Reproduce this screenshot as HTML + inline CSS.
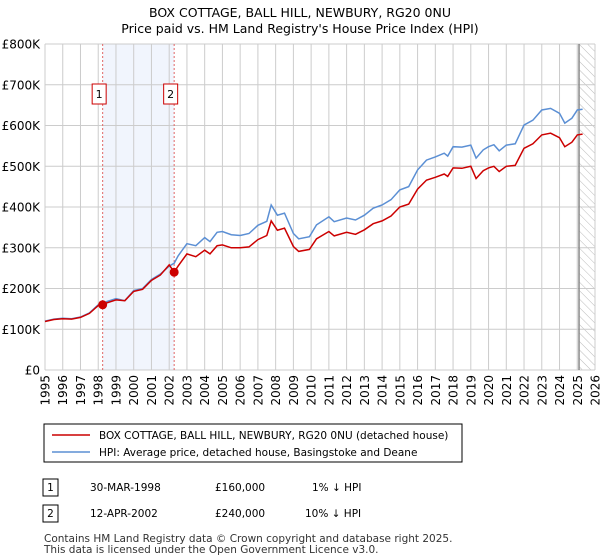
<!DOCTYPE html>
<html><head><meta charset="utf-8"><style>
body{margin:0;background:#fff;font-family:"Liberation Sans","DejaVu Sans",sans-serif;}
svg{display:block}
</style></head><body>
<svg id="c" width="600" height="560" xmlns="http://www.w3.org/2000/svg" font-family="DejaVu Sans, Liberation Sans, sans-serif">
<defs><pattern id="hatch" width="6" height="6" patternUnits="userSpaceOnUse" patternTransform="rotate(-45)"><line x1="0" y1="0" x2="0" y2="6" stroke="#bbb" stroke-width="1"/></pattern></defs>
<text x="300" y="17" text-anchor="middle" font-size="12.5" fill="#000">BOX COTTAGE, BALL HILL, NEWBURY, RG20 0NU</text>
<text x="300" y="33" text-anchor="middle" font-size="12.5" fill="#000">Price paid vs. HM Land Registry's House Price Index (HPI)</text>
<g id="grid"></g><g id="marks"></g><g id="axes"></g>
<rect x="44" y="424" width="418" height="38" fill="#fff" stroke="#000" stroke-width="1"/>
<line x1="52" y1="435" x2="90" y2="435" stroke="#cc0000" stroke-width="1.5"/>
<text x="99" y="439" font-size="10.5">BOX COTTAGE, BALL HILL, NEWBURY, RG20 0NU (detached house)</text>
<line x1="52" y1="452" x2="90" y2="452" stroke="#5b8fd4" stroke-width="1.5"/>
<text x="99" y="456" font-size="10.5">HPI: Average price, detached house, Basingstoke and Deane</text>
<g>
<rect x="43" y="479" width="15" height="17" fill="#fff" stroke="#000"/>
<text x="50.5" y="491" text-anchor="middle" font-size="10.5">1</text>
<text x="90" y="491" font-size="10.5">30-MAR-1998</text><text x="215" y="491" font-size="10.5">£160,000</text><text x="312" y="491" font-size="10.5">1% ↓ HPI</text></g>
<g>
<rect x="43" y="505" width="15" height="17" fill="#fff" stroke="#000"/>
<text x="50.5" y="517" text-anchor="middle" font-size="10.5">2</text>
<text x="90" y="517" font-size="10.5">12-APR-2002</text><text x="215" y="517" font-size="10.5">£240,000</text><text x="305" y="517" font-size="10.5">10% ↓ HPI</text></g>
<text x="44" y="542" font-size="10.5" fill="#333">Contains HM Land Registry data © Crown copyright and database right 2025.</text>
<text x="44" y="553" font-size="10.5" fill="#333">This data is licensed under the Open Government Licence v3.0.</text>
</svg>
<script>
const years=[1995,1995.5,1996,1996.5,1997,1997.5,1998,1998.25,1998.5,1999,1999.5,2000,2000.5,2001,2001.5,2002,2002.28,2002.5,2003,2003.5,2004,2004.3,2004.7,2005,2005.5,2006,2006.5,2007,2007.5,2007.75,2008.1,2008.5,2009,2009.3,2009.9,2010.3,2011,2011.3,2012,2012.5,2013,2013.5,2014,2014.5,2015,2015.5,2016,2016.5,2017,2017.5,2017.7,2018,2018.5,2019,2019.3,2019.7,2020,2020.3,2020.6,2021,2021.5,2022,2022.5,2023,2023.5,2024,2024.3,2024.7,2025,2025.3];
const hpi=[120,125,127,126,130,140,160,163,168,175,170,195,200,222,235,255,262,280,310,305,325,315,338,340,332,330,335,355,365,405,380,385,335,322,327,356,376,364,373,368,380,397,405,418,442,450,491,515,523,532,525,548,547,552,520,540,548,553,538,552,555,601,613,638,642,630,606,618,638,640];
const priceYears=years.slice(0,16).concat([2002.28]).concat(years.slice(17));
const price=[119,124,126,125,129,139,158,160,165,172,170,193,198,220,233,258,240,255,285,278,294,285,305,307,300,300,302,320,330,366,343,348,303,291,296,322,340,329,338,333,344,359,366,378,400,407,444,466,473,481,475,496,495,500,470,489,496,500,487,500,502,544,555,577,581,570,548,559,577,579];
const saleYears=[1998.25,2002.28];
const saleValues=[160,240];
const saleLabels=["1","2"];
const yTicks=[0,100,200,300,400,500,600,700,800];
const yTickLabels=["£0","£100K","£200K","£300K","£400K","£500K","£600K","£700K","£800K"];
const xTicks=[1995,1996,1997,1998,1999,2000,2001,2002,2003,2004,2005,2006,2007,2008,2009,2010,2011,2012,2013,2014,2015,2016,2017,2018,2019,2020,2021,2022,2023,2024,2025,2026];
const dataEnd=2025.1;

const X0=45,X1=595,Y0=370,Y1=44;
const xs=y=>X0+(y-1995)/(2026-1995)*(X1-X0);
const ys=v=>Y0-v/800*(Y0-Y1);
const NS="http://www.w3.org/2000/svg";
function mk(parent,tag,attrs){const e=document.createElementNS(NS,tag);for(const k in attrs)e.setAttribute(k,attrs[k]);document.getElementById(parent).appendChild(e);return e;}

let e=mk('grid','rect',{x:xs(saleYears[0]),y:Y1,width:xs(saleYears[1])-xs(saleYears[0]),height:Y0-Y1,fill:'#eef3fc',opacity:0.8});


e=mk('grid','rect',{x:xs(dataEnd),y:Y1,width:X1-xs(dataEnd),height:Y0-Y1,fill:'url(#hatch)'});


yTicks.forEach((t,i)=>{
  const l=mk('grid','line',{x1:X0,x2:X1,y1:ys(t),y2:ys(t),stroke:'#ccc','stroke-width':1});
  
  
  const tx=mk('axes','text',{x:40,y:ys(t)+4.5,'text-anchor':'end','font-size':12});
  
  
  tx.textContent=yTickLabels[i];
});
xTicks.forEach(t=>{
  const l=mk('grid','line',{x1:xs(t),x2:xs(t),y1:Y1,y2:Y0,stroke:'#ccc','stroke-width':1});
  
  
  const px=xs(t)+4.5, py=Y0+5;
  const tx=mk('axes','text',{x:px,y:py,'text-anchor':'end','font-size':12,transform:'rotate(-90 '+px+' '+py+')'});
  
  
  tx.textContent=t;
});
e=mk('grid','line',{x1:xs(dataEnd),x2:xs(dataEnd),y1:Y1,y2:Y0,stroke:'#888','stroke-width':1.5});


saleYears.forEach((s,i)=>{
  const l=mk('marks','line',{x1:xs(s),x2:xs(s),y1:Y1,y2:Y0,stroke:'#e06666','stroke-width':1,'stroke-dasharray':'2,2'});
  
  
});
const path=(xa,va)=>xa.map((x,i)=>(i?'L':'M')+xs(x).toFixed(1)+','+ys(va[i]).toFixed(1)).join('');
e=mk('marks','path',{d:path(years,hpi),fill:'none',stroke:'#5b8fd4','stroke-width':1.5});


e=mk('marks','path',{d:path(priceYears,price),fill:'none',stroke:'#cc0000','stroke-width':1.5});


saleYears.forEach((s,i)=>{
  const c=mk('marks','circle',{cx:xs(s),cy:ys(saleValues[i]),r:4.5,fill:'#cc0000'});
  
  
  const bx=xs(s)-3.5;
  const r=mk('marks','rect',{x:bx-7,y:84,width:14,height:20,fill:'#fff',stroke:'#cc0000'});
  
  
  const t=mk('marks','text',{x:bx,y:98,'text-anchor':'middle','font-size':11});
  
  
  t.textContent=saleLabels[i];
});
</script>
</body></html>
